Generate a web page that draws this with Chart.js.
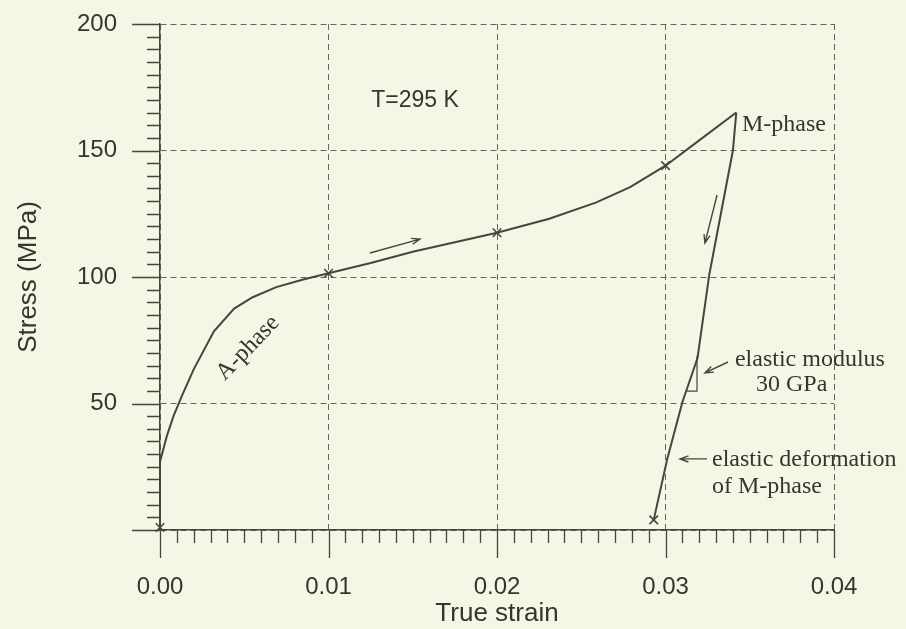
<!DOCTYPE html>
<html>
<head>
<meta charset="utf-8">
<script src="https://cdn.jsdelivr.net/npm/chart.js@4"></script>
<style>
  html, body { margin: 0; padding: 0; background: #f6f6e6; }
  #wrap { width: 906px; height: 629px; }
</style>
</head>
<body>
<div id="wrap"><canvas id="myChart"></canvas></div>
<script>
let ctx = document.getElementById('myChart').getContext('2d');

// loading branch (A-phase -> M-phase)
let loadStrain = [0, 0, 0.0004, 0.0008, 0.0013, 0.0020, 0.0032, 0.0044, 0.0055, 0.0069, 0.0085, 0.0100,
                  0.0125, 0.0150, 0.0200, 0.0231, 0.0259, 0.0279, 0.0300, 0.0320, 0.0342];
let loadStress = [1, 27, 37, 45, 53, 63.5, 78.5, 87.5, 92, 96, 99, 101.5,
                  105.5, 110, 117.5, 123, 129.5, 135.5, 144, 154, 165];

// unloading branch (elastic deformation of M-phase)
let unloadStrain = [0.0342, 0.0340, 0.0326, 0.0319, 0.0310, 0.0301, 0.0293];
let unloadStress = [165, 150, 101, 68, 50.5, 28, 4];

// cross markers
let markerStrain = [0, 0.01, 0.02, 0.03, 0.0293];
let markerStress = [1, 101.5, 117.5, 144, 4];

// ticks
let strainTicks = [0, 0.01, 0.02, 0.03, 0.04];
let stressTicks = [0, 50, 100, 150, 200];

let lineColor = '#46463a';
let textColor = '#36362a';
let gridColor = '#66665a';

function pts(xs, ys) {
    return xs.map((v, i) => ({x: v, y: ys[i]}));
}

// annotations, in data units
let notes = [
    {text: 'T=295 K', x: 0.01513, y: 169.6, align: 'center', font: '23px "Liberation Sans"'},
    {text: 'A-phase', x: 0.00522, y: 71.9, align: 'center', rot: -46, font: '24px "Liberation Serif"'},
    {text: 'M-phase', x: 0.03454, y: 160.1, align: 'left', font: '24px "Liberation Serif"'},
    {text: 'elastic modulus', x: 0.03412, y: 67.2, align: 'left', font: '24px "Liberation Serif"'},
    {text: '30 GPa', x: 0.03537, y: 57.3, align: 'left', font: '24px "Liberation Serif"'},
    {text: 'elastic deformation', x: 0.03276, y: 27.7, align: 'left', font: '24px "Liberation Serif"'},
    {text: 'of M-phase', x: 0.03276, y: 17.0, align: 'left', font: '24px "Liberation Serif"'}
];
let arrows = [
    [0.01246, 109.5, 0.01543, 115.0],
    [0.03306, 132.4, 0.03234, 113.4],
    [0.03371, 66.4, 0.03234, 62.1],
    [0.03246, 28.1, 0.03086, 28.1]
];
let triangle = [[0.03187, 68.8], [0.03187, 54.9], [0.03128, 54.9]];

let axisTicks = {
    id: 'axisTicks',
    afterDraw(chart) {
        let c = chart.ctx, sx = chart.scales.x, sy = chart.scales.y;
        let x0 = sx.getPixelForValue(0), y0 = sy.getPixelForValue(0);
        c.save();
        c.strokeStyle = lineColor;
        c.lineWidth = 1.3;
        c.beginPath();
        for (let i = 0; i <= 40; i++) {
            let px = Math.round(sx.getPixelForValue(i / 1000)) + 0.5;
            let len = i % 10 === 0 ? 28 : 13;
            c.moveTo(px, y0); c.lineTo(px, y0 + len);
        }
        for (let i = 0; i <= 40; i++) {
            let py = Math.round(sy.getPixelForValue(i * 5)) + 0.5;
            let len = i % 10 === 0 ? 28 : 13;
            c.moveTo(x0, py); c.lineTo(x0 - len, py);
        }
        c.stroke();
        c.restore();
    }
};

let notesPlugin = {
    id: 'notes',
    afterDatasetsDraw(chart) {
        let c = chart.ctx, sx = chart.scales.x, sy = chart.scales.y;
        c.save();
        c.fillStyle = textColor;
        c.textBaseline = 'middle';
        notes.forEach(n => {
            c.save();
            c.font = n.font;
            c.textAlign = n.align;
            c.translate(sx.getPixelForValue(n.x), sy.getPixelForValue(n.y));
            if (n.rot) c.rotate(n.rot * Math.PI / 180);
            c.fillText(n.text, 0, 0);
            c.restore();
        });
        c.strokeStyle = lineColor;
        c.lineWidth = 1.4;
        arrows.forEach(a => {
            let x1 = sx.getPixelForValue(a[0]), y1 = sy.getPixelForValue(a[1]);
            let x2 = sx.getPixelForValue(a[2]), y2 = sy.getPixelForValue(a[3]);
            let ang = Math.atan2(y2 - y1, x2 - x1);
            c.beginPath();
            c.moveTo(x1, y1); c.lineTo(x2, y2);
            c.moveTo(x2 - 9 * Math.cos(ang - 0.35), y2 - 9 * Math.sin(ang - 0.35));
            c.lineTo(x2, y2);
            c.lineTo(x2 - 9 * Math.cos(ang + 0.35), y2 - 9 * Math.sin(ang + 0.35));
            c.stroke();
        });
        c.lineWidth = 1.2;
        c.beginPath();
        triangle.forEach((p, i) => {
            let px = sx.getPixelForValue(p[0]), py = sy.getPixelForValue(p[1]);
            if (i === 0) c.moveTo(px, py); else c.lineTo(px, py);
        });
        c.stroke();
        c.restore();
    }
};

Chart.defaults.font.family = '"Liberation Sans", Arial, sans-serif';
Chart.defaults.color = textColor;

let chart = new Chart(ctx, {
    type: 'scatter',
    data: {
        datasets: [{
            data: pts(loadStrain, loadStress),
            showLine: true,
            borderColor: lineColor,
            borderWidth: 2,
            pointRadius: 0,
            tension: 0
        }, {
            data: pts(unloadStrain, unloadStress),
            showLine: true,
            borderColor: lineColor,
            borderWidth: 2,
            pointRadius: 0,
            tension: 0
        }, {
            data: pts(markerStrain, markerStress),
            showLine: false,
            clip: false,
            pointStyle: 'crossRot',
            pointRadius: 6,
            borderColor: lineColor,
            borderWidth: 1.6
        }]
    },
    options: {
        responsive: true,
        maintainAspectRatio: false,
        animation: false,
        layout: { padding: { top: 24, right: 72, left: 0, bottom: 0 } },
        plugins: { legend: { display: false }, tooltip: { enabled: false } },
        scales: {
            x: {
                type: 'linear',
                min: 0,
                max: 0.04,
                afterFit: s => { s.height = 99; },
                afterBuildTicks: s => { s.ticks = strainTicks.map(v => ({value: v})); },
                ticks: {
                    padding: 43,
                    font: { size: 24 },
                    color: textColor,
                    callback: v => v.toFixed(2)
                },
                grid: { color: gridColor, lineWidth: 1, drawTicks: false },
                border: { color: lineColor, width: 1.5, dash: [6, 4] },
                title: {
                    display: true,
                    text: 'True strain',
                    font: { size: 26 },
                    color: textColor,
                    padding: { top: 0, bottom: 0 }
                }
            },
            y: {
                type: 'linear',
                min: 0,
                max: 200,
                afterFit: s => { s.width = 160; s.paddingTop = 0; s.paddingBottom = 0; },
                afterBuildTicks: s => { s.ticks = stressTicks.map(v => ({value: v})); },
                ticks: {
                    padding: 43,
                    font: { size: 24 },
                    color: textColor,
                    callback: v => v === 0 ? '' : String(v)
                },
                grid: { color: gridColor, lineWidth: 1, drawTicks: false },
                border: { color: lineColor, width: 1.5, dash: [6, 4] },
                title: {
                    display: true,
                    text: 'Stress (MPa)',
                    font: { size: 26 },
                    color: textColor,
                    padding: { top: 13, bottom: 0 }
                }
            }
        }
    },
    plugins: [axisTicks, notesPlugin]
});
</script>
</body>
</html>
